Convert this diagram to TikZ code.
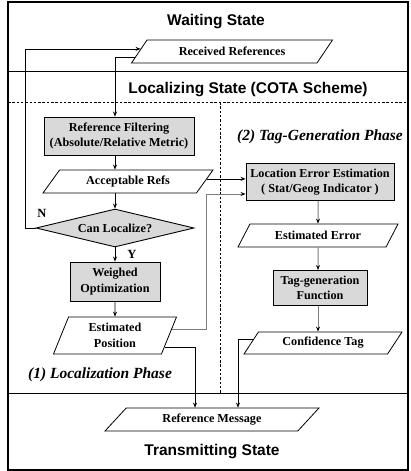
\documentclass[tikz,border=0pt]{standalone}
\usepackage{fontspec}
\setmainfont{Liberation Serif}
\setsansfont{Liberation Sans}
\usetikzlibrary{positioning, calc, shapes.geometric, arrows.meta}
\definecolor{CBoxGray}{RGB}{217,217,217}
\definecolor{CLineGray}{RGB}{125,125,125}

\begin{document}
\begin{tikzpicture}[x=1pt, y=-1pt,
      every node/.style={inner sep=0pt},
      procbox/.style={draw, line width=0.9pt, fill=CBoxGray, align=center,
                      font=\bfseries\fontsize{12.2}{15.5}\selectfont},
      databox/.style={draw, line width=0.8pt, trapezium, trapezium stretches body,
                      trapezium left angle=#1, trapezium right angle=180-#1,
                      align=center, font=\bfseries\fontsize{12.2}{15.5}\selectfont},
      decbox/.style={draw, line width=0.9pt, fill=CBoxGray, diamond, aspect=4.2,
                     align=center, font=\bfseries\fontsize{12.2}{15.5}\selectfont},
      statetitle/.style={font=\sffamily\bfseries\fontsize{15.5}{18}\selectfont},
      phasetitle/.style={font=\bfseries\itshape\fontsize{15.5}{18}\selectfont},
      yn/.style={font=\bfseries\fontsize{12.5}{14}\selectfont},
      arr/.style={->, >={Stealth[length=5pt, width=4pt]}, line width=0.7pt},
      garr/.style={->, >={Stealth[length=5pt, width=4pt, black]}, line width=1pt, CLineGray},
      divider/.style={line width=1pt},
      phaseline/.style={line width=0.7pt, dash pattern=on 2.5pt off 1.8pt},
    ]
      \useasboundingbox (0,0) rectangle (410,471);
      % Frame and state bands
      \draw[line width=1.2pt] (8,2) rectangle (408,470);
      \draw[divider] (8,71) -- (408,71);
      \draw[divider] (8,393) -- (408,393);
      \draw[phaseline] (8,102) -- (408,102);
      \draw[phaseline] (220,102) -- (220,393);
      \node[statetitle] (waiting) at (216,22) {Waiting State};
      \node[statetitle] (localizing) at (248,90) {Localizing State (COTA Scheme)};
      \node[statetitle] (transmitting) at (212,452) {Transmitting State};
      \node[phasetitle] (phaseone) at (100,375) {(1) Localization Phase};
      \node[phasetitle] (phasetwo) at (320,137) {(2) Tag-Generation Phase};
      % Waiting state input
      \node[databox=29.3, minimum width=201pt, minimum height=23pt] (recv) at (232,51.5) {Received References};
      % Localization phase
      \node[procbox, minimum width=150pt, minimum height=38pt] (filt) at (119,136)
        {Reference Filtering\\(Absolute/Relative Metric)};
      \node[databox=34, minimum width=170pt, minimum height=23pt] (acc) at (128,181.5) {Acceptable Refs};
      \node[decbox, minimum width=158pt, minimum height=38pt] (can) at (115,228) {Can Localize?};
      \node[procbox, minimum width=90pt, minimum height=39pt] (opt) at (115,281.5) {Weighed\\Optimization};
      \node[databox=58, minimum width=123pt, minimum height=37pt] (pos) at (115,335.5) {Estimated\\Position};
      % Tag-generation phase
      \node[procbox, minimum width=148pt, minimum height=37pt] (lee) at (320,182)
        {Location Error Estimation\\( Stat/Geog Indicator )};
      \node[databox=35.7, minimum width=160pt, minimum height=23pt] (err) at (318,235.5) {Estimated Error};
      \node[procbox, minimum width=94pt, minimum height=35pt] (tag) at (320,288) {Tag-generation\\Function};
      \node[databox=38, minimum width=158pt, minimum height=22pt] (conf) at (323,343) {Confidence Tag};
      % Transmitting state output
      \node[databox=28, minimum width=214pt, minimum height=23pt] (msg) at (212,419.5) {Reference Message};
      % Points on the slanted sides
      \coordinate (recvout) at ($(recv.bottom left corner)!0.26!(recv.top left corner)$);
      \coordinate (recvin) at ($(recv.bottom left corner)!0.61!(recv.top left corner)$);
      \coordinate (accout) at ($(acc.bottom right corner)!0.61!(acc.top right corner)$);
      \coordinate (posout) at ($(pos.bottom right corner)!0.65!(pos.top right corner)$);
      \coordinate (posmsg) at ($(pos.bottom right corner)!0.19!(pos.top right corner)$);
      \coordinate (confout) at ($(conf.bottom left corner)!0.68!(conf.top left corner)$);
      % Localization flow
      \draw[arr] (recvout) -| (filt.north -| can.north);
      \draw[arr] (filt.south -| can) -- (acc.north -| can);
      \draw[arr] (acc.south -| can) -- (can.north);
      \draw[arr] (can.south) -- node[right=12pt, yn] {Y} (opt.north);
      \draw[arr] (can.west) -- ++(-10,0) |- (recvin);
      \node[yn] (no) at (42,213) {N};
      \draw[arr] (opt.south) -- (pos.north);
      % Into the tag-generation phase
      \draw[arr] (accout) -- (accout -| lee.west);
      \draw[garr] (posout) -- ++(35,0) |- ([yshift=-12pt]lee.west);
      \draw[garr] (lee.south -| err) -- (err.north);
      \draw[garr] (err.south) -- (tag.north -| err);
      \draw[garr] (tag.south -| err) -- (conf.north -| err);
      % Message assembly
      \draw[arr] (posmsg) -| ([xshift=-17pt]msg.north);
      \draw[arr] (confout) -| ([xshift=26pt]msg.north);
    \end{tikzpicture}
\end{document}
